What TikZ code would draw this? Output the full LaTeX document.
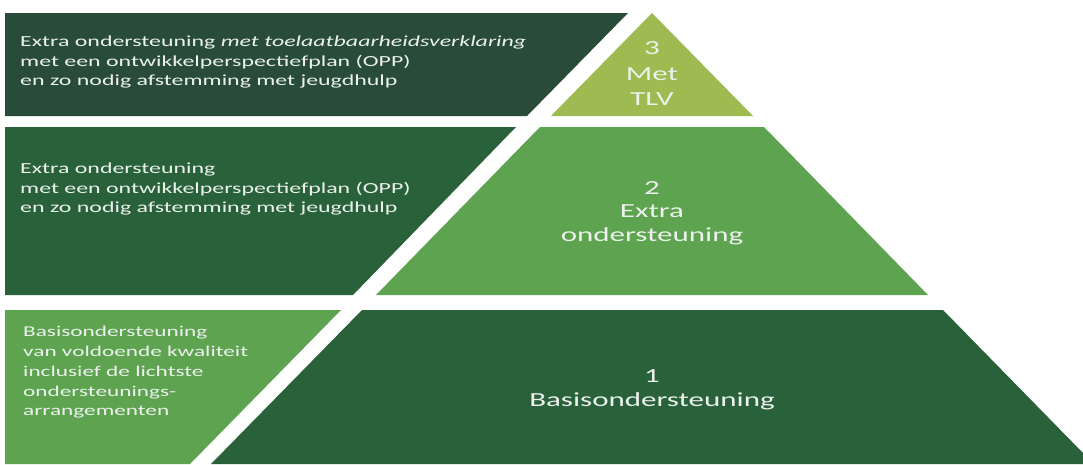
\documentclass[tikz,border=0pt]{standalone}
\usepackage{fontspec}
\newfontfamily\carl[FakeStretch=1.55]{Carlito}
\definecolor{gTop}{RGB}{40,75,58}
\definecolor{gDark}{RGB}{41,98,58}
\definecolor{gMid}{RGB}{93,163,80}
\definecolor{gLight}{RGB}{157,187,80}
\definecolor{txt}{RGB}{236,241,237}
\tikzset{
  lefttext/.style={anchor=north west, align=left, text=txt, inner sep=0pt,
    font=\carl\fontsize{15.4}{19.2}\selectfont},
  pyrtext/.style={anchor=center, align=center, text=txt, inner sep=0pt,
    font=\carl\fontsize{20}{23.5}\selectfont}
}
\begin{document}
\begin{tikzpicture}[x=1pt,y=-1pt]
\useasboundingbox[fill=white] (0,0) rectangle (1083,464);
% band 3 (top)
\fill[gTop] (5,13) -- (628,13) -- (527,116) -- (5,116) -- cycle;
\fill[gLight] (652,13) -- (753,116) -- (551,116) -- cycle;
% band 2
\fill[gDark] (5,127) -- (516,127) -- (353,295) -- (5,295) -- cycle;
\fill[gMid] (540,127) -- (764,127) -- (928,295) -- (376,295) -- cycle;
% band 1
\fill[gMid] (5,310) -- (341,310) -- (190,464) -- (5,464) -- cycle;
\fill[gDark] (362,310) -- (943,310) -- (1083,453) -- (1083,464) -- (211,464) -- cycle;
% texts
\node[lefttext] (t3) at (20,36) {Extra ondersteuning \textit{met toelaatbaarheidsverklaring}\\met een ontwikkelperspectiefplan (OPP)\\en zo nodig afstemming met jeugdhulp};
\node[lefttext] (t2) at (20,163) {Extra ondersteuning\\met een ontwikkelperspectiefplan (OPP)\\en zo nodig afstemming met jeugdhulp};
\node[lefttext, font=\carl\fontsize{15}{19.8}\selectfont] (t1) at (23,326) {Basisondersteuning\\van voldoende kwaliteit\\inclusief de lichtste\\ondersteunings-\\arrangementen};
\node[pyrtext, font=\carl\fontsize{20}{25.5}\selectfont] (p3) at (652,74) {3\\Met\\TLV};
\node[pyrtext] (p2) at (652,213) {2\\Extra\\ondersteuning};
\node[pyrtext] (p1) at (652,390) {1\\Basisondersteuning};
\end{tikzpicture}
\end{document}
